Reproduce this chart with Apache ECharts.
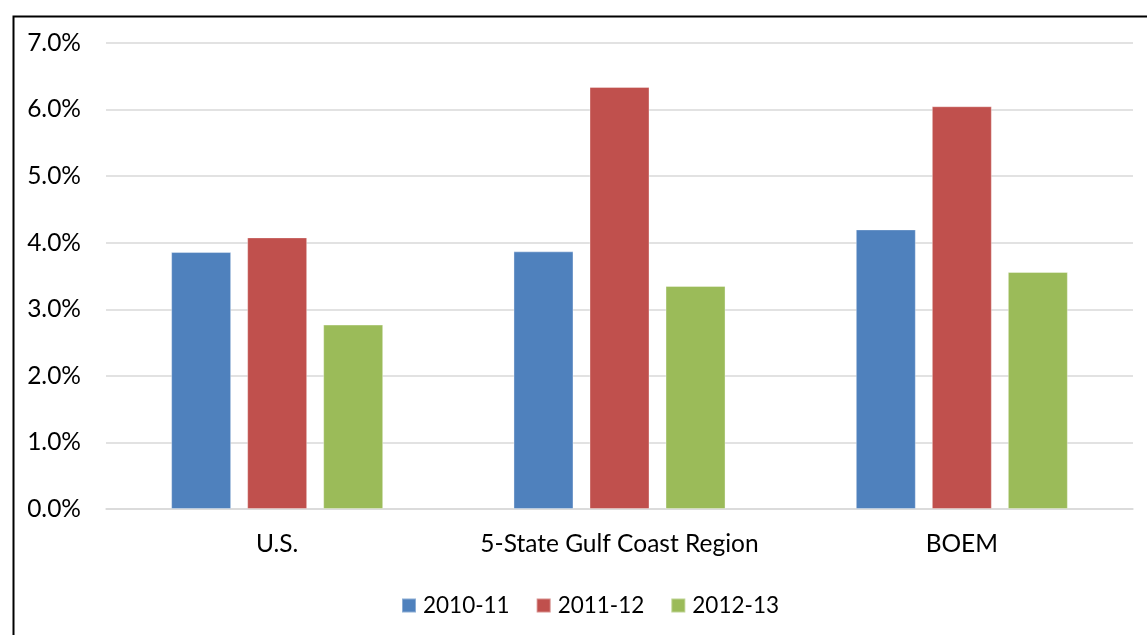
<!DOCTYPE html>
<html><head><meta charset="utf-8">
<script src="https://cdn.jsdelivr.net/npm/echarts@6/dist/echarts.min.js"></script>
<style>html,body{margin:0;padding:0;background:#fff}#c{width:1147px;height:635px}</style>
</head><body><div id="c"></div>
<script>
const categories = ['U.S.', '5-State Gulf Coast Region', 'BOEM'];
const seriesNames = ['2010-11', '2011-12', '2012-13'];
const v2010_11 = [3.86, 3.87, 4.20];
const v2011_12 = [4.08, 6.34, 6.05];
const v2012_13 = [2.77, 3.35, 3.56];
const colors = ['#4f81bd', '#c0504d', '#9bbb59'];
const font = 'Lato, "Open Sans", sans-serif';

const chart = echarts.init(document.getElementById('c'), null, {renderer: 'canvas'});
const vals = [v2010_11, v2011_12, v2012_13];
chart.setOption({
  animation: false,
  backgroundColor: '#fff',
  graphic: [{
    type: 'rect', left: 11, top: 14, silent: true,
    shape: {x: 0, y: 0, width: 1200, height: 700},
    style: {fill: 'none', stroke: '#000', lineWidth: 2}
  }],
  grid: {left: 106, right: 14, top: 43, bottom: 126, containLabel: false},
  legend: {
    left: 396, top: 589, itemWidth: 14, itemHeight: 14, itemGap: 26,
    icon: 'rect',
    textStyle: {fontFamily: font, fontSize: 22.5, color: '#000', padding: [0, 0, 0, 2]},
    data: seriesNames
  },
  xAxis: {
    type: 'category', data: categories,
    axisLine: {show: true, lineStyle: {color: '#d9d9d9', width: 1.5}},
    axisTick: {show: false},
    axisLabel: {fontFamily: font, fontSize: 24.5, color: '#000', margin: 23,
      interval: 0, hideOverlap: false}
  },
  yAxis: {
    type: 'value', min: 0, max: 7, interval: 1,
    axisLine: {show: false}, axisTick: {show: false},
    splitLine: {lineStyle: {color: '#d9d9d9', width: 1.5}},
    axisLabel: {fontFamily: font, fontSize: 24.5, color: '#000', margin: 25,
      formatter: v => v.toFixed(1) + '%'}
  },
  series: seriesNames.map((n, i) => ({
    name: n, type: 'bar', data: vals[i], barWidth: 60, barGap: '26.7%',
    itemStyle: {color: colors[i], borderColor: 'rgba(255,255,255,0.35)', borderWidth: 1}
  }))
});
</script></body></html>
